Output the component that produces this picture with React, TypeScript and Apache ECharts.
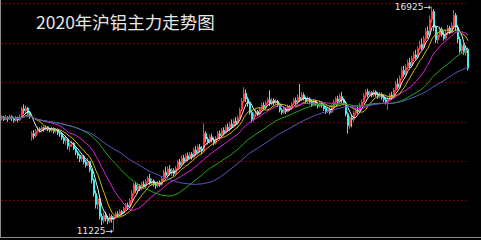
import React, { useEffect, useRef } from "react";
import * as echarts from "echarts";

const TITLE = "2020年沪铝主力走势图";

// [open, close, low, high]
const candles: [number, number, number, number][] = [
  [14080, 14120, 14030, 14160], [14120, 14060, 14020, 14150], [14060, 14110, 14040, 14170], [14110, 14070, 14000, 14140],
  [14070, 14130, 14050, 14180], [14130, 14090, 14020, 14160], [14090, 14040, 13980, 14120], [14040, 14100, 14000, 14150],
  [14100, 14050, 13990, 14130], [14050, 14110, 14020, 14180],
  [14110, 14330, 14090, 14380], [14330, 14280, 14200, 14440], [14280, 14350, 14220, 14420], [14350, 14220, 14180, 14380],
  [14220, 14130, 14080, 14260],
  [13620, 13700, 13520, 13760], [13700, 13640, 13560, 13790], [13640, 13760, 13600, 13820], [13760, 13820, 13700, 13880],
  [13820, 13790, 13730, 13860],
  [13790, 13850, 13760, 13900], [13850, 13810, 13750, 13880], [13810, 13870, 13780, 13920], [13870, 13820, 13760, 13890],
  [13820, 13790, 13730, 13850], [13790, 13830, 13740, 13870], [13830, 13760, 13700, 13860], [13760, 13800, 13710, 13840],
  [13800, 13720, 13660, 13830], [13720, 13690, 13620, 13760],
  [13690, 13600, 13540, 13720], [13600, 13520, 13440, 13640], [13520, 13560, 13420, 13610], [13560, 13380, 13300, 13590],
  [13380, 13420, 13250, 13470], [13420, 13450, 13360, 13520], [13450, 13320, 13280, 13480],
  [13320, 13220, 13150, 13350], [13220, 13150, 13060, 13260], [13150, 13060, 12980, 13190], [13060, 13120, 12990, 13170],
  [13120, 12980, 12920, 13150], [12980, 12900, 12840, 13030], [12900, 12990, 12870, 13080], [12990, 12780, 12720, 13010],
  [12780, 12520, 12440, 12810], [12520, 12180, 12100, 12560], [12180, 11900, 11800, 12260], [11900, 12050, 11780, 12120],
  [12050, 11600, 11520, 12080], [11600, 11500, 11380, 11680],
  [11500, 11620, 11420, 11700], [11620, 11540, 11470, 11720], [11540, 11480, 11400, 11610], [11480, 11600, 11430, 11680],
  [11600, 11520, 11440, 11650], [11520, 11590, 11225, 11620], [11590, 11660, 11560, 11720], [11660, 11640, 11580, 11730],
  [11640, 11720, 11600, 11780], [11720, 11690, 11620, 11760], [11690, 11800, 11660, 11850], [11800, 11880, 11760, 11940],
  [11880, 11840, 11770, 11950], [11840, 12000, 11800, 12060], [12000, 12180, 11960, 12260], [12180, 12400, 12120, 12450],
  [12400, 12260, 12200, 12480], [12260, 12380, 12180, 12440], [12380, 12300, 12240, 12420],
  [12300, 12420, 12260, 12480], [12420, 12360, 12300, 12500], [12360, 12480, 12320, 12540], [12480, 12560, 12440, 12620],
  [12560, 12440, 12400, 12680], [12440, 12500, 12380, 12560], [12500, 12420, 12360, 12540], [12420, 12380, 12300, 12470],
  [12380, 12460, 12340, 12500], [12460, 12400, 12350, 12510],
  [12400, 12560, 12380, 12620], [12560, 12720, 12500, 12780], [12720, 12640, 12580, 12860], [12640, 12800, 12600, 12870],
  [12800, 12700, 12640, 12900], [12700, 12760, 12620, 12830], [12760, 12680, 12620, 12820], [12680, 12820, 12660, 12880],
  [12820, 12980, 12780, 13040], [12980, 12900, 12840, 13060], [12900, 13080, 12880, 13150], [13080, 13000, 12940, 13160],
  [13000, 13140, 12960, 13200], [13140, 13060, 13000, 13220], [13060, 13180, 13040, 13240],
  [13180, 13100, 13040, 13230], [13100, 13280, 13080, 13340], [13280, 13200, 13140, 13380], [13200, 13360, 13160, 13420],
  [13360, 13300, 13220, 13440], [13300, 13260, 13180, 13380], [13260, 13700, 13240, 13960], [13700, 13560, 13480, 13760],
  [13560, 13480, 13420, 13620], [13480, 13620, 13440, 13680], [13620, 13540, 13480, 13700], [13540, 13460, 13400, 13600],
  [13460, 13580, 13420, 13640], [13580, 13700, 13540, 13760], [13700, 13640, 13580, 13780], [13640, 13780, 13600, 13840],
  [13780, 13720, 13660, 13860], [13720, 13860, 13700, 13920], [13860, 13800, 13740, 13960], [13800, 13940, 13760, 14000],
  [13940, 13880, 13820, 14060], [13880, 14020, 13840, 14080], [14020, 13960, 13900, 14120], [13960, 14100, 13920, 14160],
  [14100, 14300, 14060, 14360], [14300, 14520, 14260, 14600], [14520, 14720, 14480, 14880], [14720, 14580, 14500, 14820],
  [14580, 14460, 14380, 14640], [14460, 14240, 14180, 14500],
  [14240, 14060, 13980, 14280], [14060, 14180, 14000, 14240], [14180, 14260, 14120, 14320], [14260, 14200, 14140, 14300],
  [14200, 14320, 14160, 14380],
  [14320, 14420, 14280, 14480], [14420, 14360, 14300, 14500], [14360, 14480, 14320, 14540], [14480, 14560, 14440, 14620],
  [14560, 14460, 14400, 14800], [14460, 14540, 14420, 14600], [14540, 14480, 14420, 14600],
  [14480, 14520, 14440, 14580], [14520, 14440, 14380, 14560], [14440, 14300, 14240, 14480], [14300, 14240, 14180, 14340],
  [14240, 14320, 14200, 14380], [14320, 14260, 14200, 14360], [14260, 14380, 14240, 14440], [14380, 14340, 14280, 14420],
  [14340, 14460, 14300, 14500],
  [14460, 14540, 14420, 14600], [14540, 14500, 14440, 14620], [14500, 14620, 14460, 14700], [14620, 14560, 14500, 14960],
  [14560, 14680, 14520, 14760], [14680, 14600, 14540, 14740], [14600, 14520, 14460, 14640], [14520, 14580, 14460, 14640],
  [14580, 14500, 14440, 14620],
  [14500, 14440, 14380, 14560], [14440, 14520, 14400, 14580], [14520, 14460, 14400, 14560], [14460, 14400, 14340, 14500],
  [14400, 14480, 14360, 14540], [14480, 14420, 14360, 14520],
  [14420, 14340, 14280, 14460], [14340, 14260, 14200, 14400], [14260, 14320, 14220, 14380], [14320, 14240, 14180, 14360],
  [14240, 14380, 14220, 14440], [14380, 14500, 14340, 14560],
  [14500, 14580, 14460, 14640], [14580, 14520, 14460, 14660], [14520, 14640, 14500, 14720], [14640, 14560, 14480, 14760],
  [14560, 14480, 14420, 14600],
  [14480, 14200, 14140, 14520], [14200, 13900, 13700, 14240], [13900, 14100, 13820, 14160], [14100, 14060, 13860, 14180],
  [14060, 14220, 14000, 14280], [14220, 14300, 14160, 14360], [14300, 14260, 14200, 14400], [14260, 14420, 14220, 14480],
  [14420, 14500, 14380, 14560],
  [14500, 14660, 14460, 14720], [14660, 14760, 14600, 14820], [14760, 14680, 14620, 14840], [14680, 14740, 14640, 14800],
  [14740, 14680, 14620, 14780], [14680, 14760, 14640, 14820], [14760, 14700, 14640, 14800],
  [14700, 14640, 14580, 14760], [14640, 14700, 14600, 14760], [14700, 14620, 14560, 14740], [14620, 14560, 14500, 14680],
  [14560, 14500, 14440, 14620], [14500, 14560, 14300, 14620], [14560, 14680, 14520, 14740], [14680, 14620, 14560, 14760],
  [14620, 14800, 14580, 14860], [14800, 14960, 14760, 15040], [14960, 14880, 14820, 15100], [14880, 15100, 14840, 15180],
  [15100, 15300, 15060, 15400], [15300, 15200, 15140, 15420],
  [15200, 15380, 15160, 15460], [15380, 15500, 15320, 15580], [15500, 15420, 15360, 15620], [15420, 15600, 15380, 15680],
  [15600, 15700, 15540, 15780],
  [15700, 15640, 15580, 15820], [15640, 15860, 15600, 15920], [15860, 15960, 15800, 16060], [15960, 15880, 15820, 16120],
  [15880, 16100, 15840, 16180],
  [16100, 16300, 16060, 16380], [16300, 16200, 16120, 16420], [16200, 16600, 16160, 16700], [16600, 16800, 16500, 16925],
  [16800, 16400, 16300, 16860],
  [16400, 16080, 16000, 16440], [16080, 16200, 15980, 16280], [16200, 16340, 16140, 16420], [16340, 16220, 16160, 16400],
  [16220, 16120, 16060, 16300], [16120, 16260, 16080, 16340], [16260, 16380, 16200, 16460], [16380, 16280, 16220, 16440],
  [16280, 16440, 16240, 16520],
  [16440, 16700, 16400, 16840], [16700, 16400, 16300, 16760], [16400, 16100, 16000, 16460],
  [16100, 15800, 15740, 16160], [15800, 15920, 15740, 15980], [15920, 15760, 15700, 15980], [15760, 15840, 15680, 15900],
  [15840, 15360, 15300, 15880],
];

const categories: string[] = candles.map((_, i) => String(i + 1));

const MA_PERIODS = [5, 10, 20, 40, 60];
const MA_COLORS = ["#e8e8e8", "#ccbc00", "#e020e0", "#1ca81c", "#5656bc"];

const Y_MIN = 11000;
const Y_MAX = 17000;
const Y_STEP = 1000;

function movingAverage(period: number): number[] {
  const out: number[] = [];
  for (let i = 0; i < candles.length; i++) {
    const start = Math.max(0, i - period + 1);
    let s = 0;
    for (let j = start; j <= i; j++) s += candles[j][1];
    out.push(Math.round(s / (i - start + 1)));
  }
  return out;
}

export default function App() {
  const ref = useRef<HTMLDivElement>(null);
  useEffect(() => {
    if (!ref.current) return;
    const chart = echarts.init(ref.current, undefined, { renderer: "svg" });
    const maSeries = MA_PERIODS.map((p, k) => ({
      type: "line" as const,
      name: "MA" + p,
      data: movingAverage(p),
      showSymbol: false,
      symbol: "none",
      silent: true,
      z: 3,
      lineStyle: { width: 1, color: MA_COLORS[k] },
    }));
    chart.setOption({
      animation: false,
      backgroundColor: "#000000",
      title: {
        text: TITLE,
        left: 31,
        top: 8,
        textStyle: {
          color: "#e8e8e8",
          fontSize: 17.5,
          fontWeight: "normal",
          fontFamily: "Noto Sans CJK SC",
        },
      },
      grid: { left: 1, right: 12, top: 3.6, bottom: 0 },
      xAxis: {
        type: "category",
        data: categories,
        boundaryGap: true,
        axisLine: { show: false },
        axisTick: { show: false },
        axisLabel: { show: false },
        splitLine: { show: false },
      },
      yAxis: {
        type: "value",
        min: Y_MIN,
        max: Y_MAX,
        interval: Y_STEP,
        axisLine: { show: false },
        axisTick: { show: false },
        axisLabel: { show: false },
        splitLine: { show: true, lineStyle: { color: "#700000", type: [2, 2], width: 1 } },
      },
      graphic: [
        { type: "line", shape: { x1: 0.5, y1: 0, x2: 0.5, y2: 238 }, style: { stroke: "#8a8a8a", lineWidth: 1 } },
        { type: "line", shape: { x1: 0, y1: 237.5, x2: 481, y2: 237.5 }, style: { stroke: "#8a8a8a", lineWidth: 1 } },
      ],
      series: [
        {
          type: "candlestick",
          data: candles,
          barWidth: 1.4,
          z: 2,
          itemStyle: {
            color: "#ff3a3a",
            color0: "#40f0f0",
            borderColor: "#ff3a3a",
            borderColor0: "#40f0f0",
            borderWidth: 1,
          },
          markPoint: {
            symbol: "circle",
            symbolSize: 0.1,
            itemStyle: { color: "rgba(0,0,0,0)" },
            label: {
              show: true,
              position: "left",
              distance: 1,
              color: "#e6e6e6",
              fontSize: 9,
              fontFamily: "DejaVu Sans",
              formatter: (p: any) => p.value + "→",
            },
            data: [
              { type: "max", valueDim: "highest" },
              { type: "min", valueDim: "lowest" },
            ],
          },
        },
        ...maSeries,
      ],
    });
    return () => chart.dispose();
  }, []);
  return (
    <div
      ref={ref}
      style={{ position: "fixed", left: 0, top: 0, width: 481, height: 240, background: "#000" }}
    />
  );
}
